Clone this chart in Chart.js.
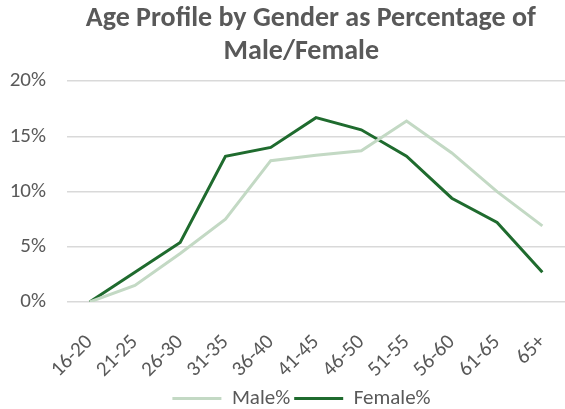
<!DOCTYPE html>
<html>
<head>
<meta charset="utf-8">
<script src="https://cdn.jsdelivr.net/npm/chart.js@4.4.0/dist/chart.umd.min.js"></script>
<style>
  html, body { margin: 0; padding: 0; background: #fff; }
  #wrap { width: 565px; height: 409px; }
</style>
</head>
<body>
<div id="wrap"><canvas id="myChart"></canvas></div>
<script>
// DATOS
const ageGroups = ["16-20", "21-25", "26-30", "31-35", "36-40", "41-45", "46-50", "51-55", "56-60", "61-65", "65+"];
const malePct = [0, 1.5, 4.4, 7.5, 12.8, 13.3, 13.7, 16.4, 13.5, 10.0, 6.9];
const femalePct = [0, 2.7, 5.4, 13.2, 14.0, 16.7, 15.6, 13.2, 9.4, 7.2, 2.7];
const yTicks = [0, 5, 10, 15, 20];

const gray = "#595959";
const font = "Calibri, Carlito, Lato, sans-serif";

// la leyenda de Excel esta un poco a la derecha del centro
const legendShift = {
  id: "legendShift",
  afterLayout: function (chart) {
    chart.legend.left += 16;
    chart.legend.right += 16;
  },
};

new Chart(document.getElementById("myChart"), {
  type: "line",
  data: {
    labels: ageGroups,
    datasets: [
      {
        label: "Male%",
        data: malePct,
        borderColor: "#c3d9c4",
        backgroundColor: "#c3d9c4",
        borderWidth: 3,
        pointRadius: 0,
        tension: 0,
      },
      {
        label: "Female%",
        data: femalePct,
        borderColor: "#1f6b2e",
        backgroundColor: "#1f6b2e",
        borderWidth: 3,
        pointRadius: 0,
        tension: 0,
      },
    ],
  },
  plugins: [legendShift],
  options: {
    responsive: true,
    maintainAspectRatio: false,
    animation: false,
    layout: { padding: { left: 6, right: 0, top: 0, bottom: -10 } },
    plugins: {
      title: {
        display: true,
        // el titulo de Excel va algo corrido a la derecha
        text: ["        Age Profile by Gender as Percentage of", "     Male/Female"],
        color: gray,
        font: { family: font, size: 28, weight: "bold", lineHeight: 1.2 },
        padding: { top: 2, bottom: 12 },
      },
      legend: {
        position: "bottom",
        labels: {
          color: gray,
          font: { family: font, size: 21 },
          boxWidth: 49,
          boxHeight: 3,
          padding: 4,
          generateLabels: function (chart) {
            return chart.data.datasets.map(function (ds, i) {
              return {
                text: ds.label,
                fillStyle: ds.borderColor,
                strokeStyle: ds.borderColor,
                lineWidth: 0,
                fontColor: gray,
                datasetIndex: i,
              };
            });
          },
        },
      },
      tooltip: { enabled: false },
    },
    scales: {
      x: {
        offset: true,
        grid: { display: false },
        border: { display: false },
        afterFit: function (axis) {
          axis.paddingLeft = 0;
          axis.paddingRight = 0;
          axis.height = 82;
        },
        ticks: {
          color: gray,
          font: { family: font, size: 21 },
          maxRotation: 45,
          minRotation: 45,
          padding: 20,
        },
      },
      y: {
        min: 0,
        max: 20,
        afterBuildTicks: function (axis) {
          axis.ticks = yTicks.map(function (v) { return { value: v }; });
        },
        afterFit: function (axis) {
          axis.width = 61;
        },
        grid: { color: "#d9d9d9", lineWidth: 1.5, drawTicks: false },
        border: { display: false },
        ticks: {
          color: gray,
          font: { family: font, size: 21 },
          padding: 21,
          callback: function (v) { return v + "%"; },
        },
      },
    },
  },
});
</script>
</body>
</html>
